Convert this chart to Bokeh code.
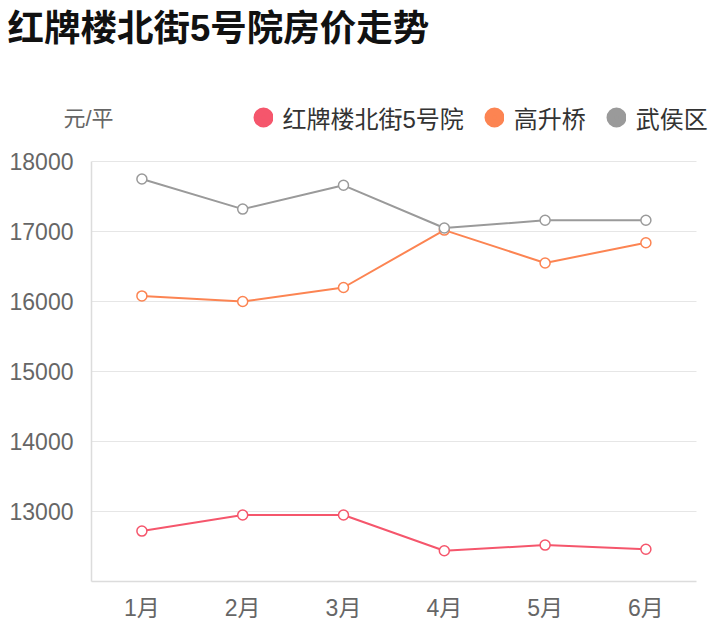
import math
from bokeh.plotting import figure
from bokeh.models import (Label, Legend, LegendItem, FixedTicker, ColumnDataSource, Range1d)
from bokeh.embed import file_html
from bokeh.resources import INLINE

title = "红牌楼北街5号院房价走势"
unit = "元/平"
months = ["1月", "2月", "3月", "4月", "5月", "6月"]
series_names = ["红牌楼北街5号院", "高升桥", "武侯区"]
hongpailou = [12720, 12950, 12950, 12440, 12520, 12460]
gaoshengqiao = [16080, 16000, 16200, 17020, 16550, 16840]
wuhou = [17750, 17320, 17660, 17050, 17160, 17160]
y_ticks = [13000, 14000, 15000, 16000, 17000, 18000]
colors = ["#f5566c", "#fc8452", "#9a9a9a"]

FONT = "Liberation Sans, Noto Sans CJK SC"

# ---- layout constants (pixels) ----
W, H = 718, 640
LEFT, TOP, BOTTOM, RIGHT = 91, 95, 59, 0
frame_w = W - LEFT - RIGHT
frame_h = H - TOP - BOTTOM
band = 100.8                      # width of one month slot
data_h = 420                      # pixels used by 12000..18000
y_lo, y_hi = 12000, 18000
y_end = y_hi + (frame_h - data_h) / data_h * (y_hi - y_lo)
x_pos = list(range(len(months)))

p = figure(width=W, height=H, title=None,
           x_range=Range1d(-0.5, -0.5 + frame_w / band),
           y_range=Range1d(y_lo, y_end), output_backend="svg", toolbar_location=None,
           min_border_left=LEFT, min_border_right=RIGHT, min_border_top=TOP,
           min_border_bottom=BOTTOM)
p.outline_line_color = None
p.background_fill_color = "white"
p.border_fill_color = "white"

src = ColumnDataSource(dict(x=x_pos, a=hongpailou, b=gaoshengqiao, c=wuhou))
for col, color in zip(["a", "b", "c"], colors):
    p.line(x="x", y=col, source=src, line_color=color, line_width=2)
    p.scatter(x="x", y=col, source=src, size=10, marker="circle", fill_color="white",
              line_color=color, line_width=1.5)

# legend swatches (nothing drawn in the plot: y is NaN)
dummies = [p.scatter(x=[0], y=[math.nan], size=8, marker="circle", fill_color=c,
                     line_color=c, line_width=12) for c in colors]

# axes
p.yaxis.ticker = FixedTicker(ticks=y_ticks)
p.yaxis.bounds = (y_lo, y_hi)
p.xaxis.ticker = FixedTicker(ticks=x_pos)
p.xaxis.major_label_overrides = {i: m for i, m in zip(x_pos, months)}
p.xaxis.bounds = (-0.5, len(months) - 0.5)
p.ygrid.ticker = FixedTicker(ticks=y_ticks)
p.ygrid.cross_bounds = (-0.5, len(months) - 0.5)
p.xgrid.grid_line_color = None
p.ygrid.grid_line_color = "#e6e6e6"
p.ygrid.grid_line_width = 1
for ax in (p.xaxis[0], p.yaxis[0]):
    ax.axis_line_color = "#dcdcdc"
    ax.axis_line_width = 1.5
    ax.major_tick_line_color = None
    ax.minor_tick_line_color = None
    ax.major_tick_out = 0
    ax.major_tick_in = 0
    ax.minor_tick_out = 0
    ax.major_label_text_font = FONT
    ax.major_label_text_font_size = "23px"
    ax.major_label_text_color = "#666666"
p.yaxis.major_label_standoff = 18
p.xaxis.major_label_standoff = 13

# legend inside the (extended) frame, top area
legend = Legend(items=[LegendItem(label=n, renderers=[r]) for n, r in zip(series_names, dummies)],
                location=(161.5, 444), orientation="horizontal",
                glyph_width=20, glyph_height=40, label_standoff=10, spacing=20,
                padding=0, margin=0, border_line_color=None, background_fill_alpha=0,
                label_text_font=FONT, label_text_font_size="24px", label_text_color="#333333",
                label_height=40)
p.add_layout(legend)

# title and unit: labels anchored in the top side panel (relative to the frame's left edge)
p.add_layout(Label(x=-84, y=67, x_units="screen", y_units="screen", text=title,
                   text_font=FONT, text_font_size="36.5px", text_font_style="bold",
                   text_baseline="middle", text_align="left", text_color="#111111"), "above")
p.add_layout(Label(x=-3, y=-64, x_units="screen", y_units="screen", text=unit,
                   text_font=FONT, text_font_size="22px",
                   text_baseline="middle", text_align="center", text_color="#666666"), "above")

open("out.html", "w").write(file_html(p, INLINE))
